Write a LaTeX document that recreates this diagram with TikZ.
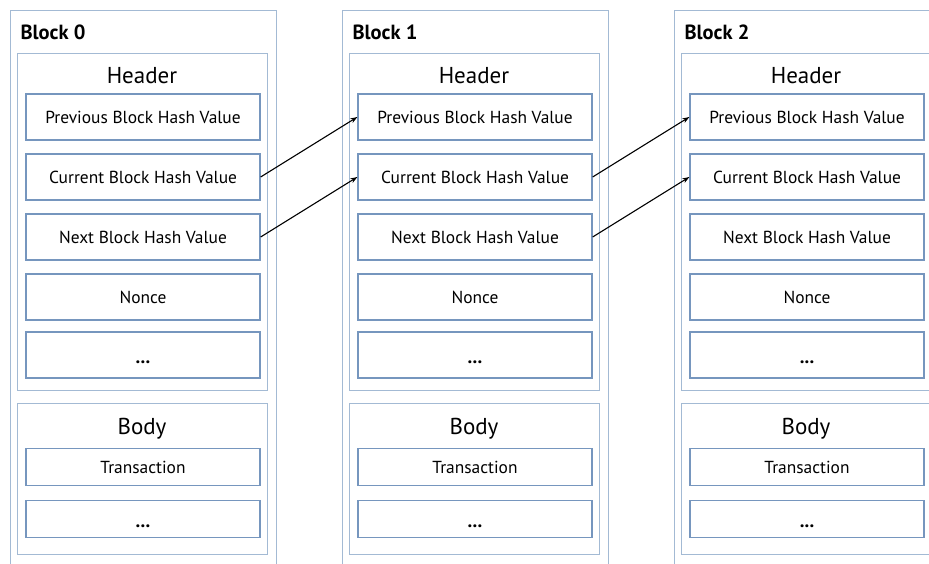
\documentclass[tikz,border=0pt]{standalone}
\usepackage{fontspec}
\setmainfont{PT Sans}
\usetikzlibrary{arrows.meta}
\definecolor{frameblue}{RGB}{163,186,212}
\definecolor{fieldblue}{RGB}{118,150,190}
\newcommand{\moredots}{\smash{\raisebox{-8pt}{\fontsize{19}{20}\selectfont\textbf{...}}}}

\begin{document}
\begin{tikzpicture}[x=1pt,y=-1pt,
  blockbox/.style={draw=frameblue,fill=white,line width=1.1pt,anchor=north west,inner sep=0pt},
  partbox/.style={draw=frameblue,fill=white,line width=1.1pt,anchor=north west,inner sep=0pt,
                  minimum width=250pt},
  fieldbox/.style={draw=fieldblue,fill=white,line width=1.3pt,inner sep=0pt,
                   minimum width=234pt,minimum height=46pt,font=\fontsize{17.4}{20}\selectfont},
  bodyfield/.style={fieldbox,minimum height=37pt},
  link/.style={-{Stealth[length=7pt,width=5pt]},black,line width=1.1pt}]
  \useasboundingbox (0,0) rectangle (929,564);
  \clip (0,0) rectangle (929,564);
  \fill[white] (0,0) rectangle (929,564);
  \foreach \i/\x in {0/0,1/332,2/664} {
    \node[blockbox,minimum width=266pt,minimum height=580pt] (blk\i) at (10+\x,10) {};
    \node[anchor=west,font=\fontsize{20.5}{24}\selectfont\bfseries] (name\i) at (17+\x,32) {Block \i};
    % header part
    \node[partbox,minimum height=337pt] (hdr\i) at (17+\x,53) {};
    \node[font=\fontsize{23}{27}\selectfont] (hdrtitle\i) at (142+\x,76) {Header};
    \node[fieldbox] (prev\i)  at (143+\x,117) {Previous Block Hash Value};
    \node[fieldbox] (cur\i)   at (143+\x,177) {Current Block Hash Value};
    \node[fieldbox] (next\i)  at (143+\x,237) {Next Block Hash Value};
    \node[fieldbox] (nonce\i) at (143+\x,297) {Nonce};
    \node[fieldbox] (dots\i)  at (143+\x,355) {\moredots};
    % body part
    \node[partbox,minimum height=151pt] (body\i) at (17+\x,403) {};
    \node[font=\fontsize{23}{27}\selectfont] (bodytitle\i) at (142+\x,429) {Body};
    \node[bodyfield] (tx\i)   at (143+\x,467) {Transaction};
    \node[bodyfield] (more\i) at (143+\x,519) {\moredots};
  }
  \foreach \i/\j in {0/1,1/2} {
    \draw[link] (cur\i.east) -- (prev\j.west);
    \draw[link] (next\i.east) -- (cur\j.west);
  }
\end{tikzpicture}
\end{document}
